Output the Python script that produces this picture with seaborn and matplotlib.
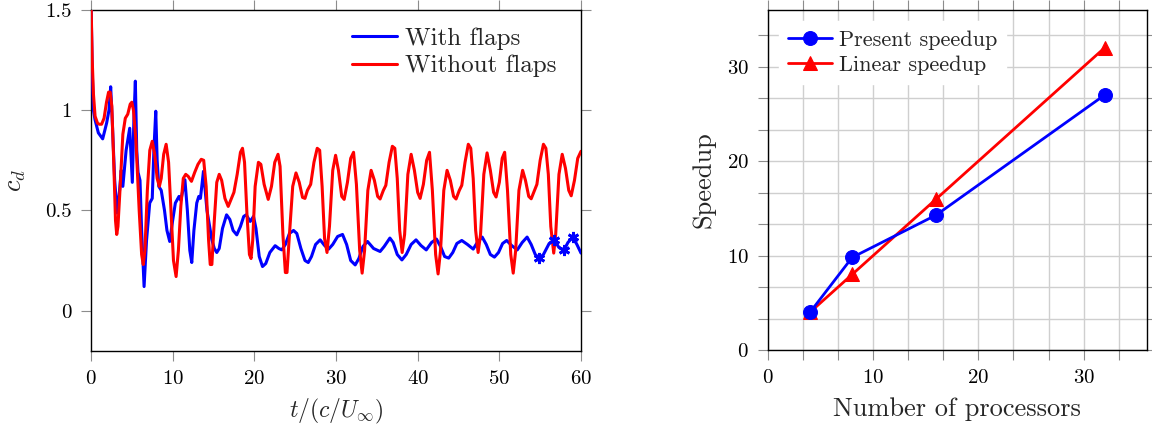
import numpy as np
import pandas as pd
import matplotlib
matplotlib.use("Agg")
import matplotlib.pyplot as plt
from matplotlib.ticker import MultipleLocator, FixedLocator
import seaborn as sns

# ---------------- data ----------------
t_without = [0.0, 0.15, 0.3, 0.5, 0.8, 1.0, 1.3, 1.6, 1.9, 2.15, 2.35, 2.55, 2.8, 3.0, 3.15, 3.3, 3.6, 3.9,
             4.2, 4.5, 4.8, 5.0, 5.2, 5.5, 5.9, 6.2, 6.4, 6.6, 6.9, 7.2, 7.5, 7.8, 8.1, 8.37, 8.6, 8.9, 9.2,
             9.5, 9.8, 10.1, 10.42, 10.7, 11.0, 11.3, 11.6, 11.9, 12.3, 12.7, 13.1, 13.5, 13.8, 14.1, 14.4,
             14.6, 14.8, 15.1, 15.4, 15.7, 16.0, 16.4, 16.8, 17.2, 17.5, 17.9, 18.3, 18.55, 18.8, 19.1,
             19.4, 19.6, 19.8, 20.1, 20.5, 20.8, 21.2, 21.7, 22.1, 22.5, 22.9, 23.15, 23.5, 23.8, 24.0,
             24.3, 24.7, 25.1, 25.5, 25.9, 26.2, 26.5, 26.9, 27.3, 27.7, 28.0, 28.3, 28.6, 28.9, 29.2,
             29.6, 29.95, 30.3, 30.7, 31.0, 31.4, 31.8, 32.15, 32.5, 32.9, 33.2, 33.5, 33.9, 34.3, 34.7,
             35.1, 35.4, 35.8, 36.1, 36.5, 36.9, 37.2, 37.5, 37.8, 38.1, 38.4, 38.8, 39.2, 39.6, 40.0,
             40.3, 40.7, 41.1, 41.45, 41.8, 42.2, 42.5, 42.8, 43.2, 43.6, 44.0, 44.4, 44.7, 45.1, 45.4,
             45.8, 46.2, 46.5, 46.8, 47.1, 47.4, 47.7, 48.1, 48.5, 48.9, 49.3, 49.6, 50.0, 50.35, 50.65,
             51.0, 51.4, 51.7, 52.0, 52.4, 52.85, 53.2, 53.6, 53.9, 54.3, 54.6, 55.0, 55.4, 55.7, 56.0,
             56.3, 56.66, 56.9, 57.3, 57.7, 58.1, 58.5, 58.8, 59.2, 59.6, 60.0]
cd_without = [1.55, 1.25, 1.08, 0.97, 0.935, 0.93, 0.93, 0.96, 1.04, 1.09, 1.09, 1.02, 0.72, 0.45, 0.38, 0.42,
              0.64, 0.88, 0.96, 0.98, 1.03, 1.04, 1.0, 0.85, 0.5, 0.28, 0.23, 0.3, 0.6, 0.8, 0.845, 0.78,
              0.66, 0.62, 0.66, 0.78, 0.83, 0.74, 0.5, 0.25, 0.17, 0.3, 0.52, 0.66, 0.68, 0.67, 0.645,
              0.69, 0.73, 0.755, 0.75, 0.62, 0.35, 0.23, 0.23, 0.45, 0.64, 0.68, 0.65, 0.56, 0.52, 0.56,
              0.59, 0.68, 0.79, 0.81, 0.74, 0.48, 0.28, 0.26, 0.35, 0.62, 0.74, 0.73, 0.63, 0.555, 0.62,
              0.74, 0.78, 0.72, 0.38, 0.19, 0.19, 0.38, 0.62, 0.687, 0.64, 0.565, 0.56, 0.6, 0.63, 0.74,
              0.81, 0.8, 0.62, 0.36, 0.29, 0.42, 0.7, 0.775, 0.7, 0.57, 0.555, 0.64, 0.76, 0.79, 0.63,
              0.3, 0.187, 0.3, 0.6, 0.70, 0.65, 0.57, 0.557, 0.6, 0.625, 0.74, 0.82, 0.81, 0.66, 0.4,
              0.29, 0.38, 0.68, 0.78, 0.7, 0.59, 0.56, 0.63, 0.75, 0.79, 0.6, 0.28, 0.183, 0.3, 0.6, 0.70,
              0.65, 0.57, 0.557, 0.6, 0.625, 0.74, 0.83, 0.81, 0.66, 0.4, 0.29, 0.38, 0.68, 0.787, 0.7,
              0.59, 0.567, 0.64, 0.76, 0.79, 0.6, 0.28, 0.187, 0.3, 0.6, 0.70, 0.65, 0.57, 0.558, 0.6,
              0.63, 0.75, 0.83, 0.81, 0.68, 0.42, 0.287, 0.38, 0.68, 0.78, 0.71, 0.6, 0.573, 0.65, 0.76,
              0.795]

t_with = [0.0, 0.15, 0.3, 0.49, 0.9, 1.43, 1.92, 2.2, 2.41, 2.6, 2.9, 3.2, 3.5, 3.7, 3.9, 4.3, 4.74, 5.06,
          5.25, 5.43, 5.6, 5.76, 6.0, 6.2, 6.5, 6.8, 7.19, 7.5, 7.7, 7.93, 8.1, 8.3, 8.6, 9.0, 9.3, 9.64,
          10.0, 10.33, 10.78, 11.0, 11.5, 11.8, 12.1, 12.34, 12.6, 12.95, 13.2, 13.4, 13.77, 14.2, 14.8,
          15.1, 15.4, 15.7, 16.1, 16.6, 17.0, 17.4, 17.85, 18.3, 18.7, 19.0, 19.5, 19.9, 20.2, 20.6, 21.0,
          21.4, 21.9, 22.55, 23.0, 23.37, 23.8, 24.3, 24.8, 25.2, 25.7, 26.2, 26.6, 27.0, 27.5, 28.06,
          28.6, 29.1, 29.6, 30.2, 30.8, 31.3, 31.8, 32.35, 32.8, 33.3, 33.86, 34.6, 35.4, 35.9, 36.6,
          37.0, 37.5, 38.07, 38.6, 39.2, 39.8, 40.4, 41.05, 41.7, 42.3, 42.8, 43.3, 43.8, 44.3, 44.8,
          45.4, 46.1, 46.8, 47.3, 47.9, 48.4, 48.9, 49.4, 49.9, 50.4, 50.9, 51.5, 52.2, 52.8, 53.4,
          53.9, 54.4, 54.9, 55.4, 56.1, 56.7, 57.3, 57.9, 58.4, 59.0, 59.5, 60.0]
cd_with = [1.55, 1.2, 1.0, 0.953, 0.887, 0.857, 0.937, 1.0, 1.117, 0.95, 0.65, 0.487, 0.6, 0.70, 0.62, 0.8,
           0.91, 0.64, 0.95, 1.145, 0.8, 0.69, 0.65, 0.4, 0.12, 0.35, 0.537, 0.56, 0.8, 0.995, 0.75, 0.62,
           0.6, 0.5, 0.4, 0.345, 0.45, 0.537, 0.57, 0.55, 0.653, 0.5, 0.3, 0.24, 0.4, 0.537, 0.57, 0.56,
           0.695, 0.5, 0.353, 0.31, 0.29, 0.31, 0.41, 0.478, 0.455, 0.4, 0.378, 0.42, 0.47, 0.478, 0.445,
           0.47, 0.41, 0.27, 0.22, 0.235, 0.29, 0.324, 0.31, 0.303, 0.33, 0.385, 0.40, 0.385, 0.31, 0.25,
           0.24, 0.27, 0.33, 0.353, 0.325, 0.307, 0.33, 0.37, 0.38, 0.33, 0.25, 0.228, 0.26, 0.32, 0.345,
           0.31, 0.295, 0.32, 0.362, 0.34, 0.28, 0.253, 0.28, 0.33, 0.353, 0.325, 0.303, 0.34, 0.357,
           0.32, 0.27, 0.262, 0.29, 0.335, 0.35, 0.33, 0.307, 0.34, 0.367, 0.33, 0.28, 0.267, 0.29,
           0.335, 0.35, 0.325, 0.303, 0.34, 0.367, 0.33, 0.28, 0.262, 0.28, 0.335, 0.353, 0.315, 0.30,
           0.34, 0.367, 0.33, 0.287]

# star-marked samples of the "with flaps" series
t_marks = [54.9, 56.7, 57.9, 59.0]
cd_marks = [0.262, 0.353, 0.30, 0.367]

processors = [4, 8, 16, 32]
speedup_present = [4.0, 9.8, 14.3, 27.0]
speedup_linear = [4, 8, 16, 32]

left_xticks = [0, 10, 20, 30, 40, 50, 60]
left_yticks = [0, 0.5, 1, 1.5]
left_yticklabels = ["0", "0.5", "1", "1.5"]
right_ticks = [0, 10, 20, 30]

# ---------------- style ----------------
sns.set_theme(style="ticks")
plt.rcParams["font.family"] = ["cmr10", "DejaVu Serif"]
plt.rcParams["mathtext.fontset"] = "cm"
plt.rcParams["axes.formatter.use_mathtext"] = True
plt.rcParams["axes.unicode_minus"] = False
plt.rcParams["lines.solid_joinstyle"] = "round"

fig = plt.figure(figsize=(11.52, 4.34), dpi=100)
ax1 = fig.add_axes([91 / 1152, 1 - 350.7 / 434, 490 / 1152, 340.7 / 434])
ax2 = fig.add_axes([768 / 1152, 1 - 350 / 434, 378.7 / 1152, 340 / 434])

BLUE = "#0000ff"
RED = "#ff0000"
TICKC = "#8c8c8c"

# ---------------- left chart ----------------
sns.lineplot(x=t_with, y=cd_with, ax=ax1, color=BLUE, lw=2.2, sort=False, estimator=None,
             label="With flaps", zorder=3)
sns.lineplot(x=t_without, y=cd_without, ax=ax1, color=RED, lw=2.2, sort=False, estimator=None,
             label="Without flaps", zorder=4)
sns.lineplot(x=t_marks, y=cd_marks, ax=ax1, color=BLUE, lw=0, marker=(6, 2, 0), markersize=8,
             markeredgewidth=2.0, markeredgecolor=BLUE, sort=False, estimator=None, zorder=5,
             legend=False)

ax1.set_xlim(0, 60)
ax1.set_ylim(-0.2, 1.5)
ax1.xaxis.set_major_locator(FixedLocator(left_xticks))
ax1.yaxis.set_major_locator(FixedLocator(left_yticks))
ax1.set_yticklabels(left_yticklabels)
ax1.set_xlabel(r"$t/(c/U_\infty)$", fontsize=17, labelpad=6)
ax1.set_ylabel(r"$c_d$", fontsize=19, labelpad=12)
ax1.tick_params(axis="both", which="major", direction="out", length=7, width=0.8, color=TICKC,
                labelsize=15, top=True, right=True, labelcolor="black", pad=7)
for s in ax1.spines.values():
    s.set_color("black")
    s.set_linewidth(1.0)
leg1 = ax1.legend(loc="upper right", frameon=False, fontsize=18, handlelength=1.8,
                  handletextpad=0.3, labelspacing=0.2, borderaxespad=0.3,
                  bbox_to_anchor=(0.985, 1.0))

# ---------------- right chart ----------------
sns.lineplot(x=processors, y=speedup_present, ax=ax2, color=BLUE, lw=2.0, marker="o", markersize=10,
             markeredgecolor=BLUE, sort=False, estimator=None, label="Present speedup", zorder=4)
sns.lineplot(x=processors, y=speedup_linear, ax=ax2, color=RED, lw=2.0, marker="^", markersize=10,
             markeredgecolor=RED, sort=False, estimator=None, label="Linear speedup", zorder=3)

ax2.set_xlim(0, 36)
ax2.set_ylim(0, 36)
ax2.xaxis.set_major_locator(FixedLocator(right_ticks))
ax2.yaxis.set_major_locator(FixedLocator(right_ticks))
ax2.xaxis.set_minor_locator(MultipleLocator(10 / 3))
ax2.yaxis.set_minor_locator(MultipleLocator(10 / 3))
ax2.grid(True, which="both", color="#cfcfcf", lw=1.0)
ax2.set_axisbelow(True)
ax2.set_xlabel("Number of processors", fontsize=19, labelpad=7)
ax2.set_ylabel("Speedup", fontsize=19, labelpad=8)
ax2.tick_params(axis="both", which="major", direction="out", length=7, width=0.8, color=TICKC,
                labelsize=15, top=True, right=True, labelcolor="black", pad=7)
ax2.tick_params(axis="both", which="minor", direction="out", length=7, width=0.8, color=TICKC,
                top=True, right=True)
for s in ax2.spines.values():
    s.set_color("black")
    s.set_linewidth(1.0)
leg2 = ax2.legend(loc="upper left", frameon=True, fontsize=16, handlelength=2.0,
                  handletextpad=0.3, labelspacing=0.25, borderaxespad=0.5, fancybox=False)
leg2.get_frame().set_facecolor("white")
leg2.get_frame().set_edgecolor("white")
leg2.get_frame().set_alpha(1.0)

fig.savefig("out.png", dpi=100)
